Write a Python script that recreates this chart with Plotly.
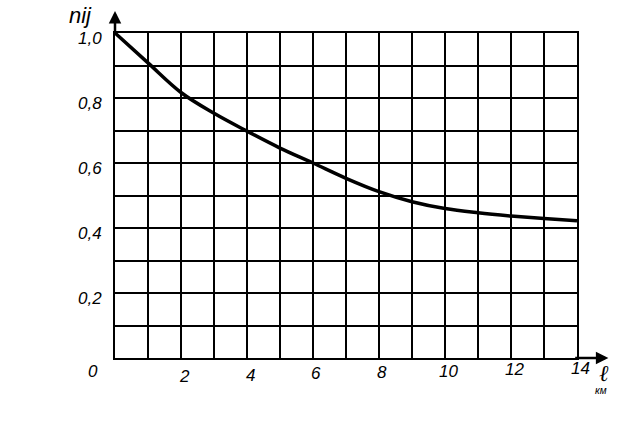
import plotly.graph_objects as go

# distance, km
x_km = [0, 1, 2, 3, 4, 5, 6, 7, 8, 9, 10, 11, 12, 13, 14]
# coefficient n_ij
n_ij = [1.0, 0.908, 0.817, 0.753, 0.698, 0.646, 0.600, 0.553, 0.512, 0.481, 0.460, 0.447, 0.437, 0.429, 0.422]

xtick_vals = [2, 4, 6, 8, 10, 12, 14]
xtick_text = ["2", "4", "6", "8", "10", "12", "14"]
ytick_vals = [0.2, 0.4, 0.6, 0.8, 1.0]
ytick_text = ["0,2", "0,4", "0,6", "0,8", "1,0"]
origin_text = "0"
y_title = "nij"
x_title = "ℓ"
x_unit = "км"

FONT = dict(family="Liberation Sans", color="black", size=17, style="italic")

fig = go.Figure()
fig.add_trace(go.Scatter(
    x=x_km, y=n_ij, mode="lines",
    line=dict(color="black", width=3.5, shape="spline", smoothing=1.0),
    hoverinfo="skip", showlegend=False,
))

annotations = []
for v, t in zip(ytick_vals, ytick_text):
    annotations.append(dict(x=0, y=v, xref="x", yref="y", text=t, showarrow=False,
                            xanchor="right", yanchor="middle", xshift=-11, yshift=-5, font=FONT))
for v, t in zip(xtick_vals, xtick_text):
    annotations.append(dict(x=v, y=0, xref="x", yref="y", text=t, showarrow=False,
                            xanchor="center", yanchor="middle", xshift=3, yshift=-(20 - 0.7 * v), font=FONT))
annotations.append(dict(x=0, y=0, xref="x", yref="y", text=origin_text, showarrow=False,
                        xanchor="center", yanchor="middle", xshift=-22, yshift=-13, font=FONT))
annotations.append(dict(x=-0.074, y=1.055, xref="paper", yref="paper", text=y_title, showarrow=False,
                        xanchor="center", yanchor="middle",
                        font=dict(family="Liberation Sans", color="black", size=22, style="italic")))
annotations.append(dict(x=1.058, y=-0.045, xref="paper", yref="paper", text=x_title, showarrow=False,
                        xanchor="center", yanchor="middle",
                        font=dict(family="DejaVu Serif", color="black", size=23, style="italic")))
annotations.append(dict(x=1.052, y=-0.1, xref="paper", yref="paper", text=x_unit, showarrow=False,
                        xanchor="center", yanchor="middle",
                        font=dict(family="Liberation Sans", color="black", size=10, style="italic")))
# axis arrows
annotations.append(dict(x=0, y=1.068, xref="x", yref="y", ax=0, ay=0.99, axref="x", ayref="y",
                        text="", showarrow=True, arrowhead=2, arrowsize=1, arrowwidth=2.5,
                        arrowcolor="black"))
annotations.append(dict(x=14.95, y=0, xref="x", yref="y", ax=13.9, ay=0, axref="x", ayref="y",
                        text="", showarrow=True, arrowhead=2, arrowsize=1, arrowwidth=2.5,
                        arrowcolor="black"))

fig.update_layout(
    width=640, height=422,
    margin=dict(l=115, r=63, t=33, b=64),
    paper_bgcolor="white", plot_bgcolor="white",
    annotations=annotations,
    xaxis=dict(range=[0, 14], dtick=1, tick0=0, showticklabels=False, ticks="",
               showgrid=True, gridcolor="black", gridwidth=1.6, zeroline=False,
               showline=True, mirror=True, linecolor="black", linewidth=2.2),
    yaxis=dict(range=[0, 1], dtick=0.1, tick0=0, showticklabels=False, ticks="",
               showgrid=True, gridcolor="black", gridwidth=1.6, zeroline=False,
               showline=True, mirror=True, linecolor="black", linewidth=2.2),
)

fig.write_html("out.html", config={"displayModeBar": False},
               post_script="document.body.style.margin='0px';")
